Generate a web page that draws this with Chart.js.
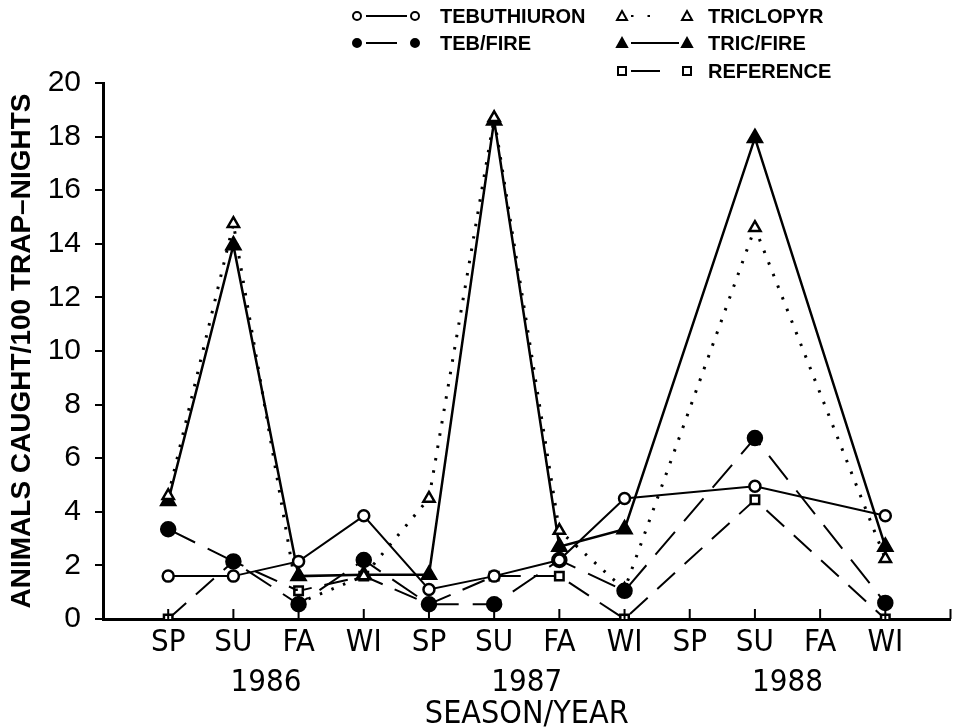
<!DOCTYPE html>
<html>
<head>
<meta charset="utf-8">
<script src="https://cdn.jsdelivr.net/npm/chart.js@4.4.1/dist/chart.umd.min.js"></script>
<style>
  html, body { margin: 0; padding: 0; background: #fff; }
  #wrap { width: 961px; height: 727px; }
</style>
</head>
<body>
<div id="wrap"><canvas id="chart" width="961" height="727"></canvas></div>
<script>
// seasons along the x axis, grouped by year
const seasons = ['SP', 'SU', 'FA', 'WI', 'SP', 'SU', 'FA', 'WI', 'SP', 'SU', 'FA', 'WI'];
const years = ['1986', '1987', '1988'];
const yTicks = [0, 2, 4, 6, 8, 10, 12, 14, 16, 18, 20];

// animals caught / 100 trap-nights (null = not sampled)
const tebuthiuron = [1.6, 1.6, 2.15, 3.85, 1.1, 1.6, 2.2, 4.5, null, 4.95, null, 3.85];
const tebFire     = [3.35, 2.15, 0.55, 2.2, 0.55, 0.55, 2.2, 1.05, null, 6.75, null, 0.6];
const triclopyr   = [4.6, 14.75, 0.6, 1.6, 4.5, 18.7, 3.3, 1.1, null, 14.6, null, 2.25];
const tricFire    = [4.4, 13.95, 1.6, 1.65, 1.65, 18.6, 2.7, 3.35, null, 17.95, null, 2.7];
const reference   = [0, 2.15, 1.05, 1.6, 0.55, 1.6, 1.6, 0, null, 4.45, null, 0];

const narrow = '"Liberation Sans Narrow", "DejaVu Sans Condensed", sans-serif';
const sans = '"Liberation Sans", Arial, sans-serif';

function toPoints(arr) {
    return arr.map((v, i) => ({ x: i, y: v }));
}

function series(label, values, opts) {
    return Object.assign({
        label: label,
        data: toPoints(values),
        borderColor: '#000',
        borderWidth: 2,
        pointBorderColor: '#000',
        pointBorderWidth: 2.5,
        spanGaps: true,
        tension: 0
    }, opts);
}

const datasets = [
    series('TEBUTHIURON', tebuthiuron, { pointStyle: 'circle', pointRadius: 5.5, pointBackgroundColor: '#fff', borderDash: [] }),
    series('TEB/FIRE', tebFire, { pointStyle: 'circle', pointRadius: 7, pointBackgroundColor: '#000', borderDash: [30, 14] }),
    series('TRICLOPYR', triclopyr, { pointStyle: 'triangle', pointRadius: 6.5, pointBackgroundColor: '#fff', borderDash: [2.5, 10], borderWidth: 3 }),
    series('TRIC/FIRE', tricFire, { pointStyle: 'triangle', pointRadius: 8, pointBackgroundColor: '#000', borderDash: [], borderWidth: 2.5 }),
    series('REFERENCE', reference, { pointStyle: 'rect', pointRadius: 6, pointBackgroundColor: '#fff', borderDash: [24, 13] })
];

// legend positions: [marker1 x, marker2 x, text x, y, line end x, dash]
const legendSlots = [
    [357, 415, 440, 16, 407, []],
    [357, 415, 440, 43, 397, []],
    [622, 687, 708, 16, 652, [2.5, 14]],
    [622, 687, 708, 43, 679, []],
    [622, 687, 708, 71, 660, []]
];

function drawMarker(ctx, ds, x, y, r) {
    ctx.save();
    ctx.setLineDash([]);
    ctx.lineWidth = 2;
    ctx.strokeStyle = '#000';
    ctx.fillStyle = ds.pointBackgroundColor;
    ctx.beginPath();
    if (ds.pointStyle === 'circle') {
        ctx.arc(x, y, r, 0, Math.PI * 2);
    } else if (ds.pointStyle === 'triangle') {
        ctx.moveTo(x, y - r);
        ctx.lineTo(x + r, y + r * 0.8);
        ctx.lineTo(x - r, y + r * 0.8);
        ctx.closePath();
    } else {
        ctx.rect(x - r, y - r, r * 2, r * 2);
    }
    ctx.fill();
    ctx.stroke();
    ctx.restore();
}

const extras = {
    id: 'extras',
    afterDatasetsDraw(chart) {
        const ctx = chart.ctx;
        const xs = chart.scales.x;
        const area = chart.chartArea;
        // inward x ticks
        ctx.save();
        ctx.strokeStyle = '#000';
        ctx.lineWidth = 2;
        for (let v = 0; v <= 12; v++) {
            const px = xs.getPixelForValue(v);
            ctx.beginPath();
            ctx.moveTo(px, area.bottom);
            ctx.lineTo(px, area.bottom - 10);
            ctx.stroke();
        }
        ctx.restore();
    },
    afterDraw(chart) {
        const ctx = chart.ctx;
        const xs = chart.scales.x;
        ctx.save();
        ctx.fillStyle = '#000';
        ctx.textAlign = 'center';
        ctx.textBaseline = 'middle';
        ctx.font = '31px ' + narrow;
        years.forEach((yr, i) => {
            ctx.fillText(yr, xs.getPixelForValue(i * 4 + 1.5), 683);
        });

        // legend
        ctx.font = 'bold 20px ' + sans;
        ctx.textAlign = 'left';
        chart.data.datasets.forEach((ds, i) => {
            const [m1, m2, tx, y, lineEnd, dash] = legendSlots[i];
            ctx.save();
            ctx.strokeStyle = '#000';
            ctx.lineWidth = 2;
            ctx.setLineDash(dash);
            ctx.beginPath();
            ctx.moveTo(m1 + 9, y);
            ctx.lineTo(lineEnd, y);
            ctx.stroke();
            ctx.restore();
            const r = ds.pointStyle === 'triangle' ? 5 : 4;
            drawMarker(ctx, ds, m1, y, r);
            drawMarker(ctx, ds, m2, y, r);
            ctx.fillText(ds.label, tx, y + 1);
        });
        ctx.restore();
    }
};

new Chart(document.getElementById('chart'), {
    type: 'line',
    data: { datasets: datasets },
    plugins: [extras],
    options: {
        responsive: false,
        animation: false,
        layout: { padding: { top: 83, right: 6, left: 0, bottom: 0 } },
        plugins: {
            legend: { display: false },
            tooltip: { enabled: false }
        },
        scales: {
            x: {
                type: 'linear',
                min: -1,
                max: 12,
                afterFit: s => { s.height = 108; },
                afterBuildTicks: s => {
                    s.ticks = seasons.map((_, i) => ({ value: i }));
                },
                ticks: {
                    autoSkip: false,
                    maxRotation: 0,
                    color: '#000',
                    padding: 8,
                    font: { family: narrow, size: 31, lineHeight: 1 },
                    callback: v => seasons[v] ?? ''
                },
                grid: { display: true, drawOnChartArea: false, drawTicks: false },
                border: { color: '#000', width: 3 },
                title: {
                    display: true,
                    text: 'SEASON/YEAR',
                    color: '#000',
                    padding: { top: 0, bottom: -4 },
                    font: { family: narrow, size: 32, lineHeight: 1 }
                }
            },
            y: {
                min: 0,
                max: 20,
                afterFit: s => { s.width = 103; },
                afterBuildTicks: s => {
                    s.ticks = yTicks.map(v => ({ value: v }));
                },
                ticks: {
                    color: '#000',
                    padding: 14,
                    font: { family: sans, size: 30 }
                },
                grid: { drawOnChartArea: false, drawTicks: true, tickLength: 8, color: '#000', lineWidth: 2 },
                border: { color: '#000', width: 3 },
                title: {
                    display: true,
                    text: 'ANIMALS CAUGHT/100 TRAP\u2013NIGHTS',
                    color: '#000',
                    padding: { top: 5, bottom: 0 },
                    font: { family: sans, size: 28, weight: 'bold', lineHeight: 1.2 }
                }
            }
        }
    }
});
</script>
</body>
</html>
